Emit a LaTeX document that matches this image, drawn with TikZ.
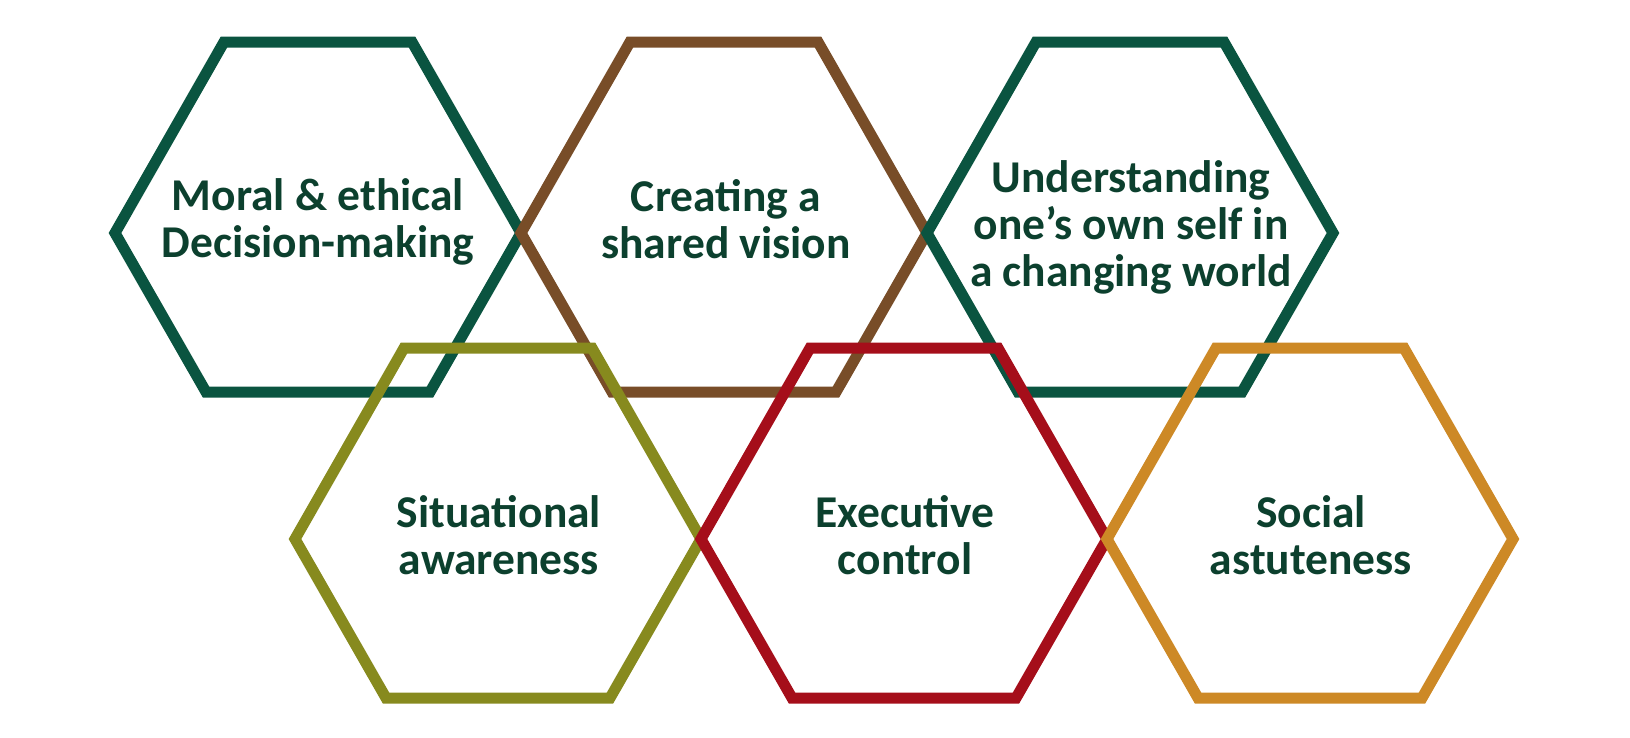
\documentclass[tikz,border=0pt]{standalone}
\usepackage{fontspec}
\setmainfont{Carlito}
\definecolor{hgreen}{RGB}{10,84,64}
\definecolor{hbrown}{RGB}{120,77,40}
\definecolor{holive}{RGB}{135,138,30}
\definecolor{hred}{RGB}{165,14,26}
\definecolor{horange}{RGB}{205,137,38}
\definecolor{txtc}{RGB}{12,64,46}
\begin{document}
\begin{tikzpicture}[x=1pt,y=-1pt,
  hexline/.style={line width=11pt, line join=miter},
  lbl/.style={font=\fontsize{45.5}{47}\selectfont\bfseries, text=txtc, align=center, inner sep=0pt},
  hexa/.pic={\draw[hexline,draw=#1] (-94,-175) -- (94,-175) -- (203,16) -- (112,175) -- (-112,175) -- (-203,16) -- cycle;}]
\useasboundingbox (0,0) rectangle (1630,737);
% hexagon centres
\coordinate (h1) at (318,217);
\coordinate (h2) at (724,217);
\coordinate (h3) at (1130,217);
\coordinate (h4) at (498,523);
\coordinate (h5) at (904,523);
\coordinate (h6) at (1310,523);
% outlines
\pic at (h1) {hexa=hgreen};
\pic at (h2) {hexa=hbrown};
\pic at (h3) {hexa=hgreen};
\pic at (h4) {hexa=holive};
\pic at (h5) {hexa=hred};
\pic at (h6) {hexa=horange};
% labels
\node[lbl] (t1) at (318,222) {Moral \& ethical\\Decision-making};
\node[lbl] (t2) at (726,219) {Creating a\\shared vision};
\node[lbl] (t3) at (1131,227) {Understanding\\one’s own self in\\a changing world};
\node[lbl] (t4) at (499,535) {Situational\\awareness};
\node[lbl] (t5) at (905,535) {Executive\\control};
\node[lbl] (t6) at (1311,535) {Social\\astuteness};
\end{tikzpicture}
\end{document}
